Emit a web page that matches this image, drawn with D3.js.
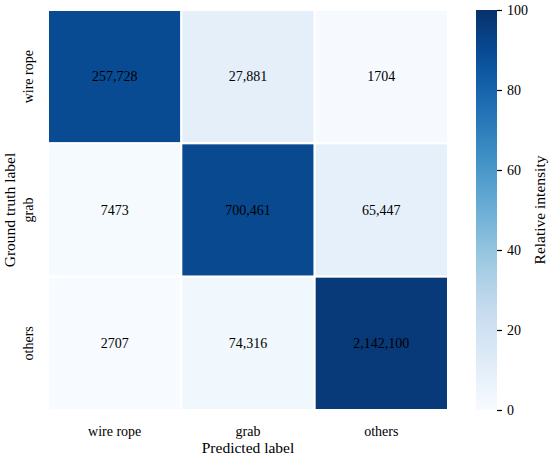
<!DOCTYPE html>
<html><head><meta charset="utf-8">
<script src="https://cdn.jsdelivr.net/npm/d3@7"></script>
<style>body{margin:0;background:#fff}svg{display:block}text{font-family:"Liberation Serif","Times New Roman",serif}</style>
</head><body>
<svg id="c" width="550" height="460"></svg>
<script>
const predictedLabels = ["wire rope", "grab", "others"];
const truthLabels = ["wire rope", "grab", "others"];
const counts = [
  ["257,728", "27,881", "1704"],
  ["7473", "700,461", "65,447"],
  ["2707", "74,316", "2,142,100"]
];
const intensity = [
  [89.7, 9.7, 0.6],
  [1.0, 90.6, 8.5],
  [0.1, 3.3, 96.5]
];
const colorbarTicks = [0, 20, 40, 60, 80, 100];
const bluesStops = ["#f7fbff","#deebf7","#c6dbef","#9ecae1","#6baed6","#4292c6","#2171b5","#08519c","#08306b"];

const svg = d3.select("#c");
const L = 48, T = 10, W = 400, H = 400;
const x = d3.scaleBand().domain(predictedLabels).range([L, L + W]);
const y = d3.scaleBand().domain(truthLabels).range([T, T + H]);
const color = d3.scaleLinear()
  .domain(bluesStops.map((_, i) => i * 100 / (bluesStops.length - 1)))
  .range(bluesStops).clamp(true);

const cells = [];
truthLabels.forEach((t, i) => predictedLabels.forEach((p, j) =>
  cells.push({t, p, v: intensity[i][j], n: counts[i][j]})));

svg.append("g").selectAll("rect").data(cells).join("rect")
  .attr("x", d => x(d.p)).attr("y", d => y(d.t))
  .attr("width", x.bandwidth()).attr("height", y.bandwidth())
  .attr("fill", d => color(d.v))
  .attr("stroke", "#fff").attr("stroke-width", 2);

svg.append("g").selectAll("text").data(cells).join("text")
  .attr("x", d => x(d.p) + x.bandwidth() / 2)
  .attr("y", d => y(d.t) + y.bandwidth() / 2)
  .attr("text-anchor", "middle").attr("dominant-baseline", "central")
  .attr("font-size", 14).attr("fill", "#000")
  .text(d => d.n);

// x tick labels
svg.append("g").selectAll("text").data(predictedLabels).join("text")
  .attr("x", d => x(d) + x.bandwidth() / 2).attr("y", 436)
  .attr("text-anchor", "middle").attr("font-size", 14).text(d => d);
// y tick labels
svg.append("g").selectAll("text").data(truthLabels).join("text")
  .attr("transform", d => `translate(33,${y(d) + y.bandwidth() / 2}) rotate(-90)`)
  .attr("text-anchor", "middle").attr("font-size", 14).text(d => d);

svg.append("text").attr("x", L + W / 2).attr("y", 453)
  .attr("text-anchor", "middle").attr("font-size", 15.5).text("Predicted label");
svg.append("text").attr("transform", `translate(15,${T + H / 2}) rotate(-90)`)
  .attr("text-anchor", "middle").attr("font-size", 15.5).text("Ground truth label");

// colorbar
const cbX = 476, cbW = 21;
const cy = d3.scaleLinear().domain([0, 100]).range([T + H, T]);
const defs = svg.append("defs");
const grad = defs.append("linearGradient").attr("id", "cbg")
  .attr("x1", 0).attr("y1", 1).attr("x2", 0).attr("y2", 0);
grad.selectAll("stop").data(d3.range(0, 101, 5)).join("stop")
  .attr("offset", d => d + "%").attr("stop-color", d => color(d));
svg.append("rect").attr("x", cbX).attr("y", T).attr("width", cbW).attr("height", H)
  .attr("fill", "url(#cbg)");
const cbAxis = svg.append("g").attr("transform", `translate(${cbX + cbW},0)`)
  .call(d3.axisRight(cy).tickValues(colorbarTicks).tickSize(5).tickPadding(5));
cbAxis.select(".domain").remove();
cbAxis.selectAll("text").attr("font-size", 14).attr("font-family", '"Liberation Serif","Times New Roman",serif').attr("fill", "#000");
cbAxis.selectAll("line").attr("stroke", "#000").attr("stroke-width", 1.2);

svg.append("text").attr("transform", `translate(545,${T + H / 2}) rotate(-90)`)
  .attr("text-anchor", "middle").attr("font-size", 15.5).text("Relative intensity");
</script>
</body></html>
